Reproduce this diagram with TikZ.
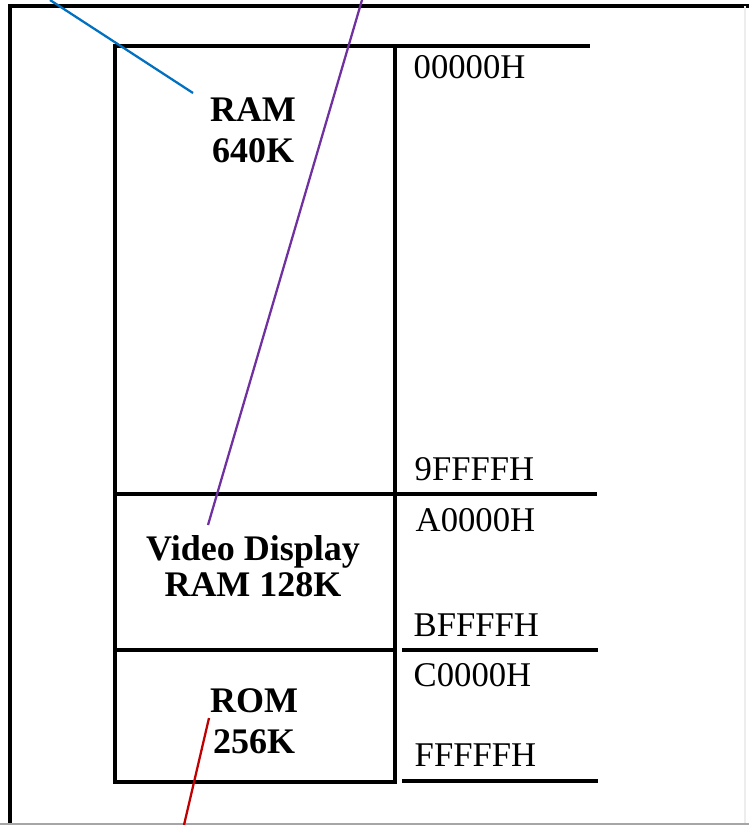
\documentclass[tikz,border=0pt]{standalone}
\usepackage{fontspec}
\setmainfont{Liberation Serif}

\definecolor{mapBlue}{HTML}{0070C0}
\definecolor{mapPurple}{HTML}{7030A0}
\definecolor{mapRed}{HTML}{C00000}
\definecolor{mapGray}{HTML}{A6A6A6}

\begin{document}
\begin{tikzpicture}[x=0.75pt,y=-0.75pt,line width=2.6pt,line join=miter,
    region/.style={align=center,inner sep=0pt,font=\fontsize{27}{31}\selectfont\bfseries},
    addr/.style={anchor=west,inner sep=0pt,font=\fontsize{26}{30}\selectfont},
    pointer/.style={line width=1.7pt}]
  \useasboundingbox (0,0) rectangle (749,825);

  % page frame
  \draw[line width=2.8pt] (10,825) -- (10,6) -- (749,6);
  \draw[mapGray,line width=1.5pt] (0,823.5) -- (749,823.5);
  \draw[mapGray!20,line width=1pt] (745,6) -- (745,823);

  % memory map box
  \draw (115,46) rectangle (395,782);
  \draw (395,46) -- (590,46);
  \draw (115,494) -- (597,494);
  \draw (115,650) -- (395,650);
  \draw (402,650) -- (598,650);
  \draw (402,781) -- (598,781);

  % regions
  \node[region] (ram) at (253,130) {RAM\\640K};
  \node[region] (vram) at (253,566) {Video Display\\[-4pt]RAM 128K};
  \node[region] (rom) at (254,721) {ROM\\256K};

  % addresses
  \node[addr] (a0) at (412,67) {00000H};
  \node[addr] (a1) at (413,469) {9FFFFH};
  \node[addr] (a2) at (414,520) {A0000H};
  \node[addr] (a3) at (412,625) {BFFFFH};
  \node[addr] (a4) at (412,675) {C0000H};
  \node[addr] (a5) at (413,755) {FFFFFH};

  % pointers
  \coordinate (pBlue) at (50,0);
  \coordinate (pBlueEnd) at (193,93);
  \coordinate (pPurple) at (362,0);
  \coordinate (pPurpleEnd) at (208,525);
  \coordinate (pRed) at (209,718);
  \coordinate (pRedEnd) at (184,825);
  \draw[pointer,mapBlue] (pBlue) -- (pBlueEnd);
  \draw[pointer,mapPurple] (pPurple) -- (pPurpleEnd);
  \draw[pointer,mapRed] (pRed) -- (pRedEnd);
\end{tikzpicture}
\end{document}
